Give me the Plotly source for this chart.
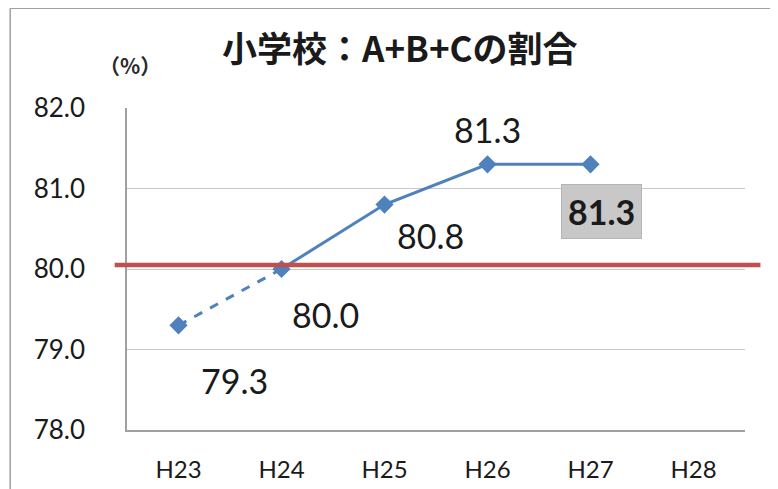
import plotly.graph_objects as go

categories = ["H23", "H24", "H25", "H26", "H27", "H28"]
values = [79.3, 80.0, 80.8, 81.3, 81.3]
target = 80.05
y_ticks = [78.0, 79.0, 80.0, 81.0, 82.0]
title = "小学校：A+B+Cの割合"
unit = "（%）"

# label pixel offsets per point (dx, dy) — layout only
label_offsets = [(56, -55), (44, -45), (46, -31), (0, 35), (11, -47)]

BLUE = "#4F81BD"
RED = "#C0504D"
GRID = "#C8C8C8"
NUM_FONT = "Lato"

fig = go.Figure()

fig.add_trace(go.Scatter(
    x=categories[0:2], y=values[0:2], mode="lines",
    line=dict(color=BLUE, width=3, dash="dash"), showlegend=False,
    hoverinfo="skip"))
fig.add_trace(go.Scatter(
    x=categories[1:len(values)], y=values[1:], mode="lines",
    line=dict(color=BLUE, width=3), showlegend=False, hoverinfo="skip"))
fig.add_trace(go.Scatter(
    x=categories[:len(values)], y=values, mode="markers",
    marker=dict(symbol="diamond", size=14, color=BLUE), showlegend=False))
fig.add_trace(go.Scatter(x=[categories[-1]], y=[None], mode="markers",
                         showlegend=False, hoverinfo="skip"))

for i, (v, (dx, dy)) in enumerate(zip(values, label_offsets)):
    last = i == len(values) - 1
    fig.add_annotation(
        x=categories[i], y=v, xref="x", yref="y",
        text=(f"<b>{v:.1f}</b>" if last else f"{v:.1f}"),
        showarrow=False, xshift=dx, yshift=dy,
        xanchor="center", yanchor="middle",
        font=dict(family=NUM_FONT, size=34, color="#1a1a1a"),
        bgcolor="#C8C8C8" if last else None,
        bordercolor="#B4B4B4" if last else None,
        borderpad=6 if last else 0,
        borderwidth=1 if last else 0,
    )

fig.add_shape(type="line", xref="paper", yref="y", x0=-0.02, x1=1.025,
              y0=target, y1=target, line=dict(color=RED, width=4.5))

# outer frame (left & top)
fig.add_shape(type="line", xref="paper", yref="paper", x0=-0.189, x1=-0.189,
              y0=1.31, y1=-0.3, line=dict(color="#A0A0A0", width=1.5))
fig.add_shape(type="line", xref="paper", yref="paper", x0=-0.189, x1=1.1,
              y0=1.31, y1=1.31, line=dict(color="#A0A0A0", width=1.5))

fig.add_annotation(text=f"<b>{title}</b>", xref="paper", yref="paper",
                   x=0.442, y=1.19, xanchor="center", yanchor="middle",
                   showarrow=False,
                   font=dict(family="Noto Sans CJK JP", size=35, color="#1a1a1a"))
fig.add_annotation(text=f"<b>{unit}</b>", xref="paper", yref="paper",
                   x=0.005, y=1.134, xanchor="center", yanchor="middle",
                   showarrow=False,
                   font=dict(family="Noto Sans CJK JP", size=21, color="#2a2a2a"))

fig.update_layout(
    width=770, height=481,
    margin=dict(l=119, r=33, t=100, b=59),
    paper_bgcolor="white", plot_bgcolor="white",
    xaxis=dict(type="category", categoryorder="array", categoryarray=categories,
               range=[-0.5, len(categories) - 0.5], automargin=False,
               showgrid=False, showline=True, linecolor="#A0A0A0", linewidth=1.5,
               tickfont=dict(family=NUM_FONT, size=24, color="#1a1a1a"),
               ticks="", ticklabelstandoff=17),
    yaxis=dict(range=[78, 82], tickvals=y_ticks, automargin=False,
               ticktext=[f"{t:.1f}" for t in y_ticks],
               showgrid=True, gridcolor=GRID, gridwidth=1,
               showline=True, linecolor="#A0A0A0", linewidth=1.5,
               zeroline=False, ticks="", ticklabelstandoff=35,
               tickfont=dict(family=NUM_FONT, size=26, color="#1a1a1a")),
)

fig.write_html("out.html")
